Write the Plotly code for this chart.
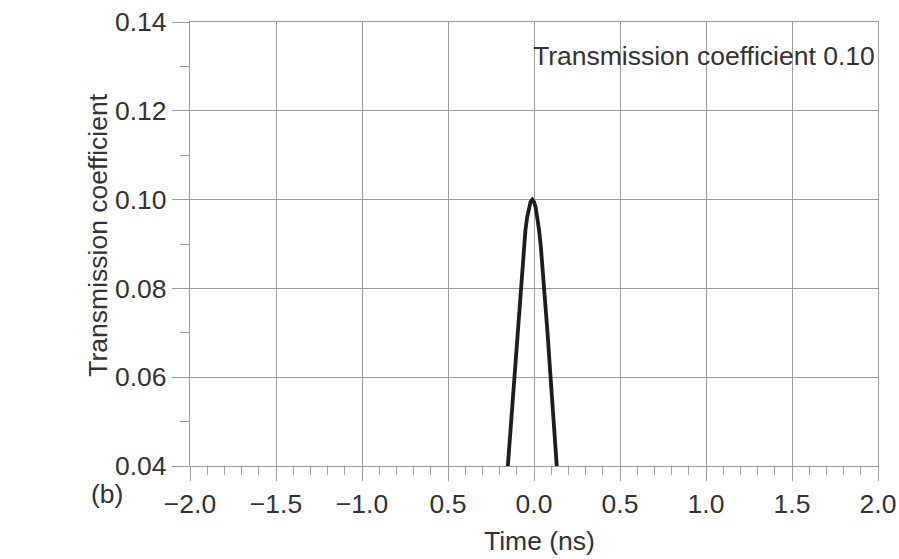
import plotly.graph_objects as go

# Data
time_ns = [-0.155, -0.15, -0.14, -0.13, -0.12, -0.11, -0.10, -0.09, -0.08, -0.07, -0.06,
           -0.05, -0.04, -0.03, -0.02, -0.01, 0.00, 0.01, 0.02, 0.03, 0.04, 0.05,
           0.06, 0.07, 0.08, 0.09, 0.10, 0.11, 0.12, 0.13, 0.135]
trans = [0.0385, 0.0411, 0.0465, 0.0520, 0.0578, 0.0635, 0.0693, 0.0748, 0.0801, 0.0849, 0.0893,
         0.0930, 0.0960, 0.0982, 0.0995, 0.1000, 0.0995, 0.0982, 0.0960, 0.0930, 0.0893, 0.0849,
         0.0801, 0.0748, 0.0693, 0.0635, 0.0578, 0.0520, 0.0465, 0.0411, 0.0385]

x_tickvals = [-2.0, -1.5, -1.0, -0.5, 0.0, 0.5, 1.0, 1.5, 2.0]
x_ticktext = ["\u22122.0", "\u22121.5", "\u22121.0", "0.5", "0.0", "0.5", "1.0", "1.5", "2.0"]
y_tickvals = [0.04, 0.06, 0.08, 0.10, 0.12, 0.14]
y_ticktext = ["0.04", "0.06", "0.08", "0.10", "0.12", "0.14"]

title_text = "Transmission coefficient 0.10"
x_title = "Time (ns)"
y_title = "Transmission coefficient"
panel_label = "(b)"

FONT = "Liberation Sans"
TXT = "#333333"
GRID = "#9d9d9d"
FS = 26.5

fig = go.Figure()
fig.add_trace(go.Scatter(x=time_ns, y=trans, mode="lines",
                         line=dict(color="#1c1c1c", width=3.8),
                         showlegend=False, hoverinfo="skip"))

fig.update_layout(
    width=899, height=559,
    margin=dict(l=190, r=21, t=22, b=93, autoexpand=False),
    paper_bgcolor="white", plot_bgcolor="white",
    font=dict(family=FONT, size=FS, color=TXT),
    xaxis=dict(range=[-2.0, 2.0], tickvals=x_tickvals, ticktext=x_ticktext,
               automargin=False,
               showgrid=True, gridcolor=GRID, gridwidth=1.3,
               showline=True, linecolor=GRID, linewidth=1.3, mirror=True,
               ticks="outside", ticklen=14, tickcolor=GRID, tickwidth=1.3,
               zeroline=False,
               minor=dict(dtick=0.1, tick0=0, ticks="outside", ticklen=8,
                          tickcolor=GRID, tickwidth=1.2, showgrid=False),
               tickfont=dict(family=FONT, size=FS, color=TXT)),
    yaxis=dict(range=[0.04, 0.14], tickvals=y_tickvals, ticktext=y_ticktext,
               automargin=False,
               showgrid=True, gridcolor=GRID, gridwidth=1.3,
               showline=True, linecolor=GRID, linewidth=1.3, mirror=True,
               ticks="outside", ticklen=17, tickcolor=GRID, tickwidth=1.3,
               zeroline=False,
               minor=dict(dtick=0.01, tick0=0, ticks="outside", ticklen=9,
                          tickcolor=GRID, tickwidth=1.2, showgrid=False),
               tickfont=dict(family=FONT, size=FS, color=TXT)),
)

fig.add_annotation(text=title_text, xref="paper", yref="paper", x=1.0, y=0.9234,
                   xanchor="right", yanchor="middle", xshift=-1, showarrow=False,
                   font=dict(family=FONT, size=FS, color=TXT))
fig.add_annotation(text=y_title, xref="paper", yref="paper", x=-0.135, y=0.519,
                   xanchor="center", yanchor="middle", textangle=-90, showarrow=False,
                   font=dict(family=FONT, size=FS, color=TXT))
fig.add_annotation(text=x_title, xref="paper", yref="paper", x=0.5087, y=-0.169,
                   xanchor="center", yanchor="middle", showarrow=False,
                   font=dict(family=FONT, size=FS, color=TXT))
fig.add_annotation(text=panel_label, xref="paper", yref="paper", x=-0.1206, y=-0.063,
                   xanchor="center", yanchor="middle", showarrow=False,
                   font=dict(family=FONT, size=FS, color=TXT))

fig.write_html("out.html", config={"displayModeBar": False},
               post_script="document.body.style.margin='0';document.body.style.overflow='hidden';")
